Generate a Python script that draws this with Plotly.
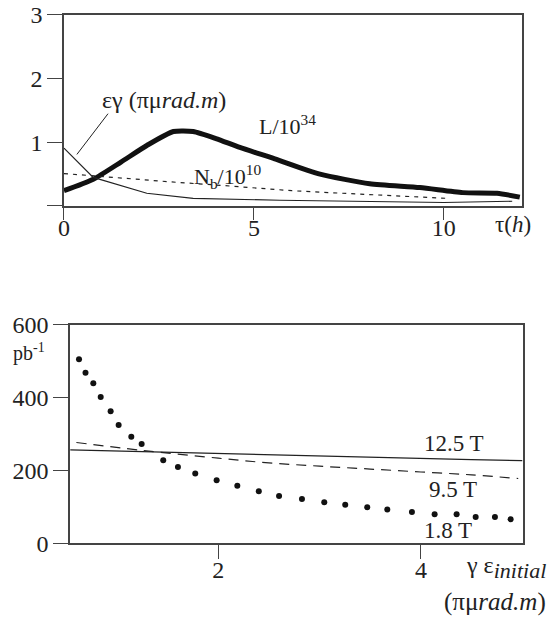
import plotly.graph_objects as go

# ---- Upper panel: beam evolution during a fill ----
tau_L = [0, 0.77, 1.5, 2.18, 2.88, 3.4, 4.0, 4.63, 5.55, 6.74, 8.05, 9.37, 10.5, 11.4, 12.0]
lum = [0.24, 0.42, 0.69, 0.95, 1.17, 1.17, 1.06, 0.92, 0.74, 0.50, 0.35, 0.29, 0.21, 0.20, 0.14]

tau_eps = [0, 0.77, 2.18, 3.4, 5.68, 8.0, 10.0, 11.8]
emit = [0.91, 0.45, 0.20, 0.12, 0.09, 0.07, 0.055, 0.075]

tau_nb = [0, 1, 2, 3, 4, 5, 6, 7, 8, 9, 10.1]
nbunch = [0.51, 0.46, 0.41, 0.37, 0.33, 0.28, 0.24, 0.21, 0.18, 0.15, 0.12]

top_xticks = [0, 5, 10]
top_yticks = [0, 1, 2, 3]
top_ytext = ["", "1", "2", "3"]

# ---- Lower panel: integrated luminosity vs initial emittance ----
eps_125 = [0.54, 1.5, 2.5, 3.5, 4.5, 5.0]
int_125 = [257, 250, 243, 236, 230, 227]

eps_95 = [0.6, 1.23, 2.0, 2.5, 3.0, 3.5, 4.0, 4.5, 4.96]
int_95 = [277, 256, 234, 221, 212, 204, 196, 188, 178]

eps_18 = [0.626, 0.69, 0.767, 0.84, 0.938, 1.017, 1.142, 1.244, 1.457, 1.602,
          1.773, 1.984, 2.188, 2.40, 2.60, 2.826, 3.046, 3.253, 3.47, 3.668,
          3.911, 4.135, 4.352, 4.54, 4.73, 4.885]
int_18 = [506, 469, 440, 402, 363, 325, 293, 273, 228, 210,
          192, 173, 158, 143, 130, 122, 113, 106, 99, 93,
          86, 80, 80, 72, 72, 66]

bot_xticks = [2, 4]
bot_yticks = [0, 200, 400, 600]

FONT = "Liberation Serif, Times New Roman, DejaVu Serif, serif"
AX = "#444444"
INK = "#222222"

fig = go.Figure()

fig.add_trace(go.Scatter(x=tau_L, y=lum, mode="lines",
                         line=dict(color="#111111", width=5, shape="spline", smoothing=0.6),
                         xaxis="x", yaxis="y", showlegend=False))
fig.add_trace(go.Scatter(x=tau_eps, y=emit, mode="lines",
                         line=dict(color=INK, width=1.2),
                         xaxis="x", yaxis="y", showlegend=False))
fig.add_trace(go.Scatter(x=tau_nb, y=nbunch, mode="lines",
                         line=dict(color=INK, width=1.2, dash="4px,5px"),
                         xaxis="x", yaxis="y", showlegend=False))

fig.add_trace(go.Scatter(x=eps_125, y=int_125, mode="lines",
                         line=dict(color=INK, width=1.2),
                         xaxis="x2", yaxis="y2", showlegend=False))
fig.add_trace(go.Scatter(x=eps_95, y=int_95, mode="lines",
                         line=dict(color=INK, width=1.2, dash="10px,7px", shape="spline"),
                         xaxis="x2", yaxis="y2", showlegend=False))
fig.add_trace(go.Scatter(x=eps_18, y=int_18, mode="markers",
                         marker=dict(color="#111111", size=6),
                         xaxis="x2", yaxis="y2", showlegend=False))

axis_common = dict(showline=True, linecolor=AX, linewidth=1.5, mirror=True,
                   showgrid=False, zeroline=False, ticks="outside",
                   tickcolor=AX, tickwidth=1.2, automargin=False,
                   tickfont=dict(family=FONT, size=24, color=INK))

fig.update_layout(
    template="none",
    width=552, height=619,
    margin=dict(l=0, r=0, t=0, b=0, autoexpand=False),
    paper_bgcolor="white", plot_bgcolor="white",
    xaxis=dict(domain=[0.1159, 0.9451], range=[0, 12.05], anchor="y",
               tickvals=top_xticks, ticklen=12, ticklabelstandoff=-13, **axis_common),
    yaxis=dict(domain=[0.6672, 0.9758], range=[0, 3], anchor="x",
               tickvals=top_yticks, ticktext=top_ytext, ticklen=15, **axis_common),
    xaxis2=dict(domain=[0.1268, 0.948], range=[0.537, 5.01], anchor="y2",
                tickvals=bot_xticks, ticklen=14, ticklabelstandoff=-10, **axis_common),
    yaxis2=dict(domain=[0.1223, 0.475], range=[0, 600], anchor="x2",
                tickvals=bot_yticks, ticklen=15, **axis_common),
    font=dict(family=FONT, color=INK),
)

# pointer from the emittance label to its curve
fig.add_shape(type="line", xref="x", yref="y", x0=1.16, y0=1.45, x1=0.34, y1=0.81,
              line=dict(color=INK, width=1))

ann = [
    dict(x=100, y=100, text="εγ (πμ<i>rad.m</i>)", size=24, xanchor="left"),
    dict(x=257, y=125, text="L/10<sup>34</sup>", size=22, xanchor="left"),
    dict(x=192, y=176, text="N<sub>b</sub>/10<sup>10</sup>", size=22, xanchor="left"),
    dict(x=493, y=225, text="τ(<i>h</i>)", size=23, xanchor="left"),
    dict(x=47, y=352, text="pb<sup>-1</sup>", size=20, xanchor="right"),
    dict(x=422, y=443, text="12.5 T", size=23, xanchor="left"),
    dict(x=427, y=489, text="9.5 T", size=23, xanchor="left"),
    dict(x=422, y=530, text="1.8 T", size=23, xanchor="left"),
    dict(x=548, y=567,
         text="γ ε<sub><span style='font-size:22px'><i>initial</i></span></sub>",
         size=24, xanchor="right"),
    dict(x=548, y=602, text="(πμ<i>rad.m</i>)", size=25, xanchor="right"),
]
for a in ann:
    fig.add_annotation(x=a["x"] / 552, y=1 - a["y"] / 619, xref="paper", yref="paper",
                       text=a["text"], showarrow=False, xanchor=a["xanchor"],
                       yanchor="middle",
                       font=dict(family=FONT, size=a["size"], color=INK))

fig.write_html("out.html")
